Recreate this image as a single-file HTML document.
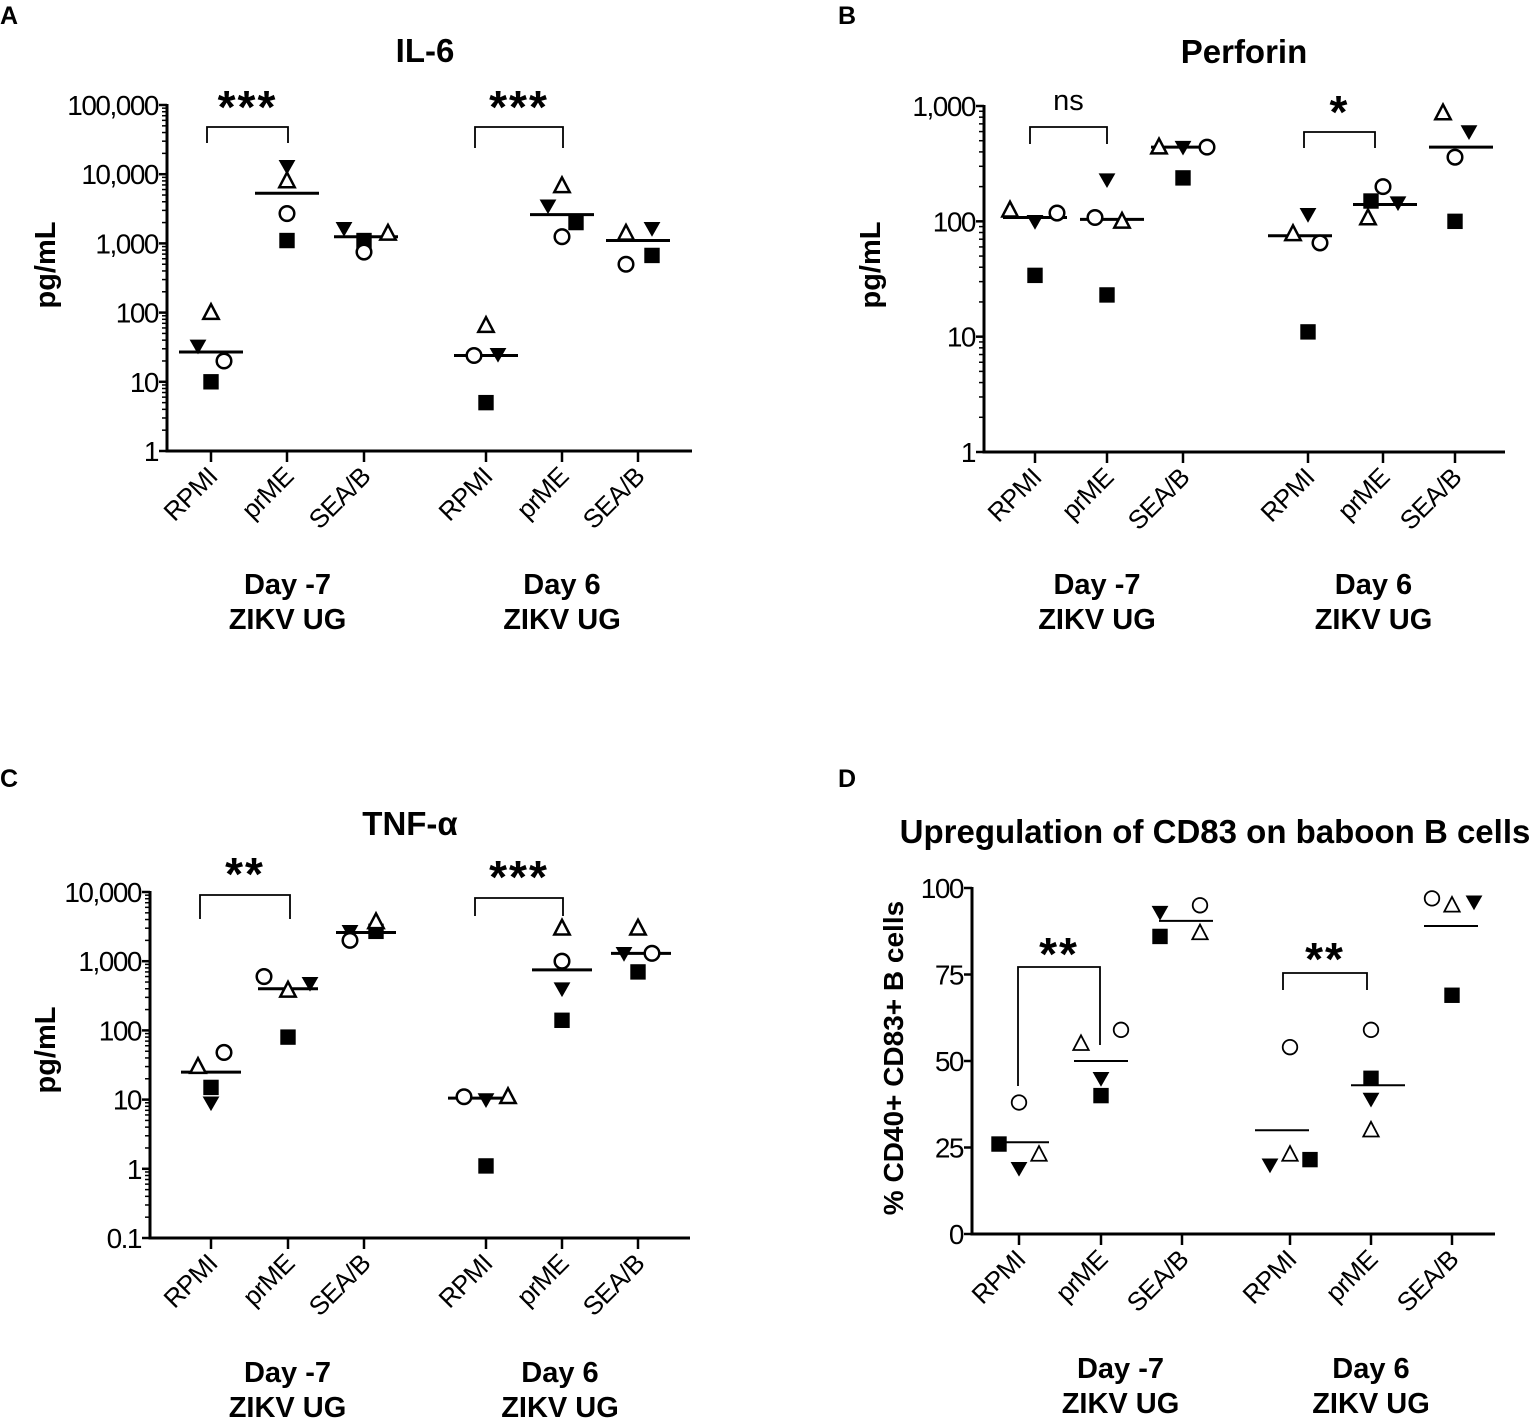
<!DOCTYPE html>
<html><head><meta charset="utf-8">
<style>
html,body{margin:0;padding:0;background:#fff;}
svg{display:block;font-family:"Liberation Sans",Arial,sans-serif;}
</style></head>
<body>
<svg id="fig" width="1535" height="1421" viewBox="0 0 1535 1421" xmlns="http://www.w3.org/2000/svg">
<rect width="1535" height="1421" fill="#fff"/>
</svg>
<script>
// Shared categories
const categories = ["RPMI","prME","SEA/B","RPMI","prME","SEA/B"];
const groupLabels = [["Day -7","ZIKV UG"],["Day 6","ZIKV UG"]];
// Marker order per group: square, triangle-up, triangle-down, circle
const markerTypes = ["sq","tu","td","ci"];

// Panel A: IL-6 (pg/mL)
const aValues = [[10,100,33,20],[1100,8000,13000,2700],[1100,1400,1650,750],[5,65,25,24],[2000,6800,3500,1250],[670,1400,1650,500]];
const aMedians = [27,5300,1250,24,2600,1100];
const aTicks = [1,10,100,1000,10000,100000];
const aTickLabels = ["1","10","100","1,000","10,000","100,000"];
const aSig = ["***","***"];

// Panel B: Perforin
const bValues = [[34,125,100,118],[23,100,230,108],[238,440,440,440],[11,78,115,65],[150,107,145,200],[100,870,600,360]];
const bMedians = [108,104,440,75,140,440];
const bTicks = [1,10,100,1000];
const bTickLabels = ["1","10","100","1,000"];
const bSig = ["ns","*"];

// Panel C: TNF-alpha
const cValues = [[15,30,9,48],[80,380,480,600],[2700,3700,2700,2000],[1.1,11,10,11],[140,3000,400,1000],[700,3000,1300,1300]];
const cMedians = [25,400,2600,10.5,750,1300];
const cTicks = [0.1,1,10,100,1000,10000];
const cTickLabels = ["0.1","1","10","100","1,000","10,000"];
const cSig = ["**","***"];

// Panel D: % CD40+ CD83+ B cells
const dValues = [[26,23,19,38],[40,55,45,59],[86,87,93,95],[21.5,23,20,54],[45,30,39,59],[69,95,96,97]];
const dMedians = [26.5,50,90.5,30,43,89];
const dTicks = [0,25,50,75,100];
const dTickLabels = ["0","25","50","75","100"];
const dSig = ["**","**"];

const NS="http://www.w3.org/2000/svg";
const svg=document.getElementById('fig');
function mk(tag,attrs,parent,txt){const e=document.createElementNS(NS,tag);for(const k in attrs)e.setAttribute(k,attrs[k]);if(txt!==undefined)e.textContent=txt;(parent||svg).appendChild(e);return e;}

function panel(cfg){
  const g=mk('g',{});
  
  
  const yScale = cfg.log
    ? v => cfg.y0 - (Math.log10(v)-Math.log10(cfg.min))/(Math.log10(cfg.max)-Math.log10(cfg.min))*(cfg.y0-cfg.y1)
    : v => cfg.y0 - (v-cfg.min)/(cfg.max-cfg.min)*(cfg.y0-cfg.y1);
  const xScale = i => cfg.cx[i];
  const L=mk('text',{x:cfg.letterX,y:cfg.letterY,'font-size':25,'font-weight':'bold'},g,cfg.letter);
  
  
  const T=mk('text',{x:cfg.titleX,y:cfg.titleY,'font-size':cfg.titleSize||33,'font-weight':'bold','text-anchor':'middle'},g,cfg.title);
  
  
  const ya=mk('line',{x1:cfg.ax,y1:cfg.y1-1,x2:cfg.ax,y2:cfg.y0+1.5,stroke:'#000','stroke-width':3},g);
  
  
  const xa=mk('line',{x1:cfg.ax-1.5,y1:cfg.y0,x2:cfg.axEnd,y2:cfg.y0,stroke:'#000','stroke-width':3},g);
  
  
  cfg.ticks.forEach((t,i)=>{
    const y=yScale(t);
    mk('line',{x1:cfg.ax-8,y1:y,x2:cfg.ax,y2:y,stroke:'#000','stroke-width':2.5},g);
    const tl=mk('text',{x:cfg.ax-9,y:y+10,'font-size':28,'text-anchor':'end','letter-spacing':'-1.5'},g,cfg.tickLabels[i]);
    
    
    if(cfg.log && i<cfg.ticks.length-1){
      for(let m=2;m<=9;m++){const ym=yScale(t*m);mk('line',{x1:cfg.ax-5,y1:ym,x2:cfg.ax,y2:ym,stroke:'#000','stroke-width':1.5},g);}
    }
  });
  const yt=mk('text',{x:cfg.ytX,y:cfg.ytY,'font-size':cfg.ytSize||29,'font-weight':'bold','text-anchor':'middle',transform:`rotate(-90 ${cfg.ytX} ${cfg.ytY})`},g,cfg.yTitle);
  
  
  categories.forEach((c,i)=>{
    const x=xScale(i);
    mk('line',{x1:x,y1:cfg.y0,x2:x,y2:cfg.y0+11,stroke:'#000','stroke-width':2.5},g);
    const lx=x+8, ly=cfg.y0+27;
    const tl=mk('text',{x:lx,y:ly,'font-size':26,'text-anchor':'end','letter-spacing':'-0.5',transform:`rotate(-45 ${lx} ${ly})`},g,c);
    
    
  });
  groupLabels.forEach((gl,k)=>{
    const x=(xScale(k*3)+xScale(k*3+2))/2+cfg.glShift[k];
    gl.forEach((s,j)=>{
      const t=mk('text',{x:x,y:cfg.glY+j*35,'font-size':29,'font-weight':'bold','text-anchor':'middle'},g,s);
      
      
    });
  });
  cfg.medians.forEach((m,i)=>{
    const y=yScale(m), x=xScale(i)+(cfg.medShift?cfg.medShift[i]:0);
    const ln=mk('line',{x1:x-cfg.medW,y1:y,x2:x+cfg.medW,y2:y,stroke:'#000','stroke-width':cfg.medSW},g);
    
    
  });
  cfg.values.forEach((grp,i)=>{
    grp.forEach((v,j)=>{
      const x=xScale(i)+cfg.jitter[i][j], y=yScale(v), s=cfg.ms, type=markerTypes[j];
      let e;
      if(type==='sq') e=mk('rect',{x:x-s*0.55,y:y-s*0.55,width:s*1.1,height:s*1.1,fill:'#000'},g);
      else if(type==='ci') e=mk('circle',{cx:x,cy:y,r:s*0.52,fill:'#fff',stroke:'#000','stroke-width':cfg.sw},g);
      else if(type==='tu') e=mk('polygon',{points:`${x},${y-s*0.6} ${x-s*0.55},${y+s*0.45} ${x+s*0.55},${y+s*0.45}`,fill:'#fff',stroke:'#000','stroke-width':cfg.sw},g);
      else e=mk('polygon',{points:`${x},${y+s*0.6} ${x-s*0.6},${y-s*0.45} ${x+s*0.6},${y-s*0.45}`,fill:'#000'},g);
      
      
    });
  });
  cfg.brackets.forEach((b,k)=>{
    const p=mk('path',{d:`M${b.x1},${b.l1} V${b.top} H${b.x2} V${b.l2}`,fill:'none',stroke:'#000','stroke-width':1.8},g);
    
    
    const isNs=cfg.sig[k]==='ns';
    const st=mk('text',{x:(b.x1+b.x2)/2,y:b.sy+(isNs?0:10),'font-size':isNs?29:46,'font-weight':isNs?'normal':'bold','text-anchor':'middle','letter-spacing':isNs?'0':'2'},g,cfg.sig[k]);
    
    
  });
}

panel({name:'panel-a-il6',letter:'A',letterX:0,letterY:24,title:'IL-6',titleX:425,titleY:62,
  log:true,min:1,max:100000,y0:451,y1:105,ax:167,axEnd:692,cx:[211,287,364,486,562,638],
  ticks:aTicks,tickLabels:aTickLabels,yTitle:'pg/mL',ytX:55,ytY:265,glY:594,glShift:[0,0],
  values:aValues,medians:aMedians,medShift:[0,0,2,0,0,0],medW:32,medSW:3,ms:14,sw:2.5,sig:aSig,
  jitter:[[0,0,-13,13],[0,0,0,0],[0,24,-20,0],[0,0,12,-12],[14,0,-14,0],[14,-12,14,-12]],
  brackets:[{x1:207,x2:288,top:127,l1:143,l2:143,sy:113},{x1:475,x2:563,top:127,l1:148,l2:148,sy:113}]});

panel({name:'panel-b-perforin',letter:'B',letterX:838,letterY:24,title:'Perforin',titleX:1244,titleY:63,
  log:true,min:1,max:1000,y0:452,y1:106,ax:984,axEnd:1505,cx:[1035,1107,1183,1308,1383,1455],
  ticks:bTicks,tickLabels:bTickLabels,yTitle:'pg/mL',ytX:880,ytY:265,glY:594,glShift:[-12,-8],
  values:bValues,medians:bMedians,medShift:[0,5,0,-8,2,6],medW:32,medSW:3,ms:14,sw:2.5,sig:bSig,
  jitter:[[0,-25,0,22],[0,15,0,-12],[0,-24,0,24],[0,-15,0,12],[-12,-15,15,0],[0,-12,14,0]],
  brackets:[{x1:1030,x2:1107,top:127,l1:144,l2:144,sy:110},{x1:1304,x2:1375,top:132,l1:148,l2:148,sy:118}]});

panel({name:'panel-c-tnf',letter:'C',letterX:0,letterY:787,title:'TNF-α',titleX:410,titleY:835,
  log:true,min:0.1,max:10000,y0:1238,y1:892,ax:150,axEnd:690,cx:[211,288,364,486,562,638],
  ticks:cTicks,tickLabels:cTickLabels,yTitle:'pg/mL',ytX:55,ytY:1050,glY:1382,glShift:[0,-2],
  values:cValues,medians:cMedians,medShift:[0,0,2,-8,0,3],medW:30,medSW:3,ms:14,sw:2.5,sig:cSig,
  jitter:[[0,-13,0,13],[0,0,22,-24],[12,12,-14,-14],[0,22,0,-22],[0,0,0,0],[0,0,-14,14]],
  brackets:[{x1:200,x2:290,top:895,l1:919,l2:919,sy:880},{x1:475,x2:563,top:898,l1:916,l2:916,sy:883}]});

panel({name:'panel-d-cd83',letter:'D',letterX:838,letterY:787,title:'Upregulation of CD83 on baboon B cells',titleX:1215,titleY:843,titleSize:33,
  log:false,min:0,max:100,y0:1234,y1:888,ax:972,axEnd:1495,cx:[1019,1101,1182,1290,1371,1452],
  ticks:dTicks,tickLabels:dTickLabels,yTitle:'% CD40+ CD83+ B cells',ytX:903,ytY:1058,ytSize:28,glY:1378,glShift:[20,0],
  values:dValues,medians:dMedians,medShift:[3,0,4,-8,7,-1],medW:27,medSW:2,ms:14,sw:1.8,sig:dSig,
  jitter:[[-20,20,0,0],[0,-20,0,20],[-22,18,-22,18],[20,0,-20,0],[0,0,0,0],[0,0,22,-20]],
  brackets:[{x1:1018,x2:1100,top:967,l1:1086,l2:1045,sy:960},{x1:1283,x2:1367,top:973,l1:990,l2:990,sy:965}]});
</script>
</body></html>
